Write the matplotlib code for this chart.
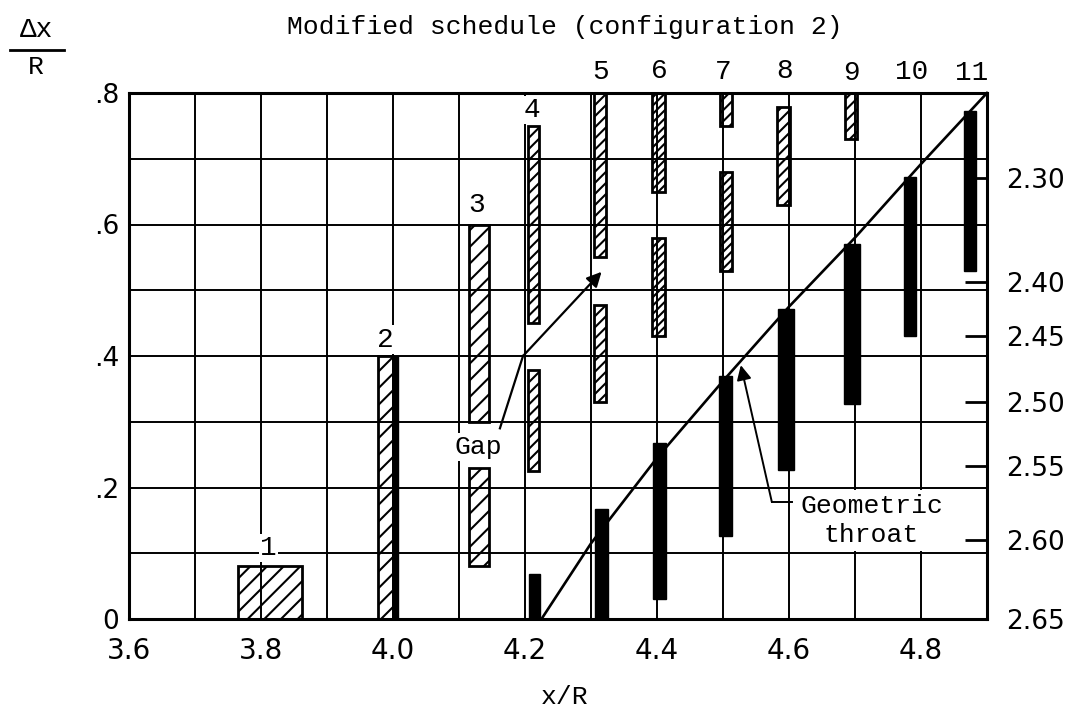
import numpy as np
import matplotlib.pyplot as plt
from matplotlib.lines import Line2D
from matplotlib.patches import Rectangle

# Hatched regions: x/R extent and Δx/R extent of each bar segment
hatched_x0 = [3.765, 3.977, 4.115, 4.115, 4.204, 4.204, 4.305, 4.305, 4.393, 4.393, 4.495, 4.495, 4.582, 4.685]
hatched_x1 = [3.862, 4.000, 4.145, 4.145, 4.221, 4.221, 4.322, 4.322, 4.412, 4.412, 4.513, 4.513, 4.602, 4.703]
hatched_y0 = [0.00, 0.00, 0.30, 0.08, 0.45, 0.225, 0.55, 0.33, 0.65, 0.43, 0.75, 0.53, 0.63, 0.73]
hatched_y1 = [0.08, 0.40, 0.60, 0.23, 0.75, 0.378, 0.80, 0.478, 0.80, 0.58, 0.80, 0.68, 0.778, 0.80]
hatched_pattern = ['//', '//', '//', '//', '///', '///', '///', '///', '////', '////', '///', '////', '///', '///']

# Solid regions
solid_x0 = [4.000, 4.206, 4.306, 4.394, 4.494, 4.584, 4.683, 4.774, 4.865]
solid_x1 = [4.007, 4.223, 4.325, 4.414, 4.514, 4.607, 4.707, 4.793, 4.884]
solid_y0 = [0.00, 0.00, 0.00, 0.03, 0.126, 0.227, 0.327, 0.43, 0.53]
solid_y1 = [0.40, 0.068, 0.167, 0.267, 0.37, 0.471, 0.570, 0.672, 0.772]

# Geometric throat curve
throat_x = [4.225, 4.30, 4.40, 4.50, 4.60, 4.70, 4.80, 4.90]
throat_y = [0.0, 0.115, 0.245, 0.362, 0.475, 0.580, 0.692, 0.80]

# Station numbers and where they are written
station_labels = ['1', '2', '3', '4', '5', '6', '7', '8', '9', '10', '11']
station_label_x = [3.811, 3.988, 4.127, 4.210, 4.314, 4.403, 4.500, 4.594, 4.695, 4.786, 4.877]
station_label_y = [0.108, 0.425, 0.630, 0.774, 0.832, 0.834, 0.832, 0.834, 0.830, 0.832, 0.830]

# Axis ticks
x_ticks = np.round(np.arange(3.6, 4.91, 0.1), 2)
x_tick_labels = ['3.6', '', '3.8', '', '4.0', '', '4.2', '', '4.4', '', '4.6', '', '4.8', '']
y_ticks = np.round(np.arange(0, 0.81, 0.1), 2)
y_tick_labels = ['0', '', '.2', '', '.4', '', '.6', '', '.8']
right_tick_pos = [0.670, 0.512, 0.430, 0.330, 0.232, 0.120, 0.0]
right_tick_labels = ['2.30', '2.40', '2.45', '2.50', '2.55', '2.60', '2.65']

MONO = ['Liberation Mono', 'DejaVu Sans Mono']
NUM = ['DejaVu Sans']

plt.rcParams['hatch.linewidth'] = 1.5

W, H = 1086, 715
fig = plt.figure(figsize=(W / 100, H / 100), dpi=100)
ax = fig.add_axes([129 / W, 96 / H, 858 / W, 526 / H])
ax.set_xlim(3.6, 4.9)
ax.set_ylim(0, 0.8)

ax.set_xticks(x_ticks)
ax.set_xticklabels(x_tick_labels, family=NUM, fontsize=20)
ax.set_yticks(y_ticks)
ax.set_yticklabels(y_tick_labels, family=NUM, fontsize=19)
ax.tick_params(axis='x', length=0, pad=13)
ax.tick_params(axis='y', length=0, pad=7)
ax.grid(True, color='black', lw=1.4)
ax.set_axisbelow(True)
for s in ax.spines.values():
    s.set_linewidth(2.2)

# hatched bars
hb = ax.bar(hatched_x0, np.subtract(hatched_y1, hatched_y0),
            width=np.subtract(hatched_x1, hatched_x0), bottom=hatched_y0,
            align='edge', facecolor='none', edgecolor='black', lw=2.0, zorder=3)
for p, h in zip(hb, hatched_pattern):
    p.set_hatch(h)

# solid bars
ax.bar(solid_x0, np.subtract(solid_y1, solid_y0),
       width=np.subtract(solid_x1, solid_x0), bottom=solid_y0,
       align='edge', facecolor='black', edgecolor='black', lw=1.0, zorder=3)

# throat line
ax.plot(throat_x, throat_y, color='black', lw=1.9, zorder=4, clip_on=False)

# station numbers
for i, (lab, lx, ly) in enumerate(zip(station_labels, station_label_x, station_label_y)):
    kw = {}
    if i < 4:
        kw['bbox'] = dict(facecolor='white', edgecolor='none', pad=1.0)
    ax.text(lx, ly, lab, ha='center', va='center', family=MONO, fontsize=20,
            zorder=5, clip_on=False, **kw)

# "Gap" note
ax.text(4.129, 0.262, 'Gap', ha='center', va='center', family=MONO, fontsize=19,
        zorder=5, bbox=dict(facecolor='white', edgecolor='none', pad=1.5))
ax.plot([4.162, 4.197], [0.29, 0.40], color='black', lw=1.6, zorder=5)
ax.annotate('', xy=(4.316, 0.528), xytext=(4.197, 0.40),
            arrowprops=dict(arrowstyle='-|>', color='black', lw=1.6,
                            mutation_scale=22, shrinkA=0, shrinkB=0), zorder=5)

# "Geometric throat" note
ax.add_patch(Rectangle((4.604, 0.104), 0.296, 0.092, facecolor='white',
                       edgecolor='none', zorder=2))
ax.text(4.725, 0.172, 'Geometric', ha='center', va='center', family=MONO,
        fontsize=19, zorder=5)
ax.text(4.725, 0.127, 'throat', ha='center', va='center', family=MONO,
        fontsize=19, zorder=5)
ax.plot([4.604, 4.574], [0.178, 0.178], color='black', lw=1.4, zorder=5)
ax.annotate('', xy=(4.527, 0.386), xytext=(4.574, 0.178),
            arrowprops=dict(arrowstyle='-|>', color='black', lw=1.4,
                            mutation_scale=22, shrinkA=0, shrinkB=0), zorder=5)

# right-hand scale
ax2 = ax.twinx()
ax2.set_ylim(0, 0.8)
ax2.set_yticks(right_tick_pos)
ax2.set_yticklabels(right_tick_labels, family=NUM, fontsize=19)
ax2.tick_params(axis='y', direction='in', length=16, width=2.0, pad=14)
for s in ax2.spines.values():
    s.set_visible(False)

# headings
fig.text(565 / W, 1 - 27 / H, 'Modified schedule (configuration 2)', ha='center',
         va='center', family=MONO, fontsize=19)
fig.text(36 / W, 1 - 30 / H, 'Δx', ha='center', va='center', family=MONO, fontsize=20)
fig.add_artist(Line2D([10 / W, 64 / W], [1 - 50 / H] * 2, color='black', lw=2))
fig.text(36 / W, 1 - 67 / H, 'R', ha='center', va='center', family=MONO, fontsize=19)
fig.text(565 / W, 1 - 697 / H, 'x/R', ha='center', va='center', family=MONO, fontsize=19)

fig.savefig('out.png', dpi=100, facecolor='white')
